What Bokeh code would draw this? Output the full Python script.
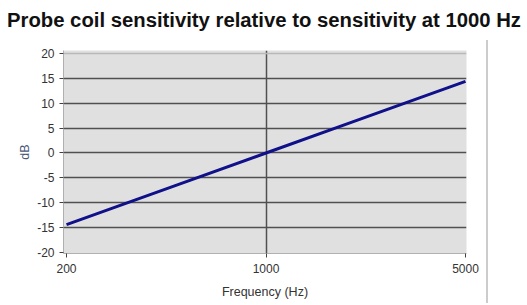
from bokeh.plotting import figure
from bokeh.models import FixedTicker, Range1d, Span, Div
from bokeh.layouts import column, row
from bokeh.embed import file_html
from bokeh.resources import INLINE

freq_hz = [200, 500, 1000, 2000, 5000]
sens_db = [-14.4, -6.2, 0.0, 6.2, 14.4]
x_ticks = [200, 1000, 5000]
y_ticks = [-20, -15, -10, -5, 0, 5, 10, 15, 20]
title_text = "Probe coil sensitivity relative to sensitivity at 1000 Hz"

p = figure(width=486, height=263, x_axis_type="log", output_backend="svg",
           toolbar_location=None,
           x_range=Range1d(195.2, 5040), y_range=Range1d(-20.2, 20.6),
           min_border_left=63, min_border_right=20, min_border_bottom=50, min_border_top=10,
           margin=0)

p.background_fill_color = "#e0e0e0"
p.border_fill_color = "white"
p.outline_line_color = None

p.line(freq_hz, sens_db, line_color="#10108a", line_width=3)

p.xgrid.ticker = FixedTicker(ticks=[1000])
p.xgrid.grid_line_color = "#505050"
p.xgrid.grid_line_width = 1.5
p.ygrid.ticker = FixedTicker(ticks=[-15, -10, -5, 0, 5, 10, 15])
p.ygrid.grid_line_color = "#505050"
p.ygrid.grid_line_width = 1.5
p.add_layout(Span(location=20, dimension="width", line_color="#b8b8b8", line_width=1.5))

for ax in (p.xaxis[0], p.yaxis[0]):
    ax.axis_line_color = "#b0b0b0"
    ax.major_tick_line_color = "#404040"
    ax.major_tick_out = 4
    ax.major_tick_in = 0
    ax.minor_tick_line_color = None
    ax.major_label_text_font = "Liberation Sans"
    ax.major_label_text_font_size = "12px"
    ax.major_label_text_color = "#333333"
    ax.axis_label_text_font = "Liberation Sans"
    ax.axis_label_text_font_size = "12.5px"
    ax.axis_label_text_font_style = "normal"

p.xaxis.ticker = FixedTicker(ticks=x_ticks)
p.xaxis.major_label_overrides = {t: str(t) for t in x_ticks}
p.xaxis.axis_label = "Frequency (Hz)"
p.xaxis.axis_label_text_color = "#333333"
p.xaxis.axis_label_standoff = 9
p.xaxis.major_label_standoff = 6
p.yaxis.ticker = FixedTicker(ticks=y_ticks)
p.yaxis.major_label_overrides = {t: str(t) for t in y_ticks}
p.yaxis.axis_label = "dB"
p.yaxis.axis_label_text_color = "#4a5878"
p.yaxis.axis_label_standoff = 2
p.yaxis.major_label_standoff = 5

title_div = Div(text=title_text, width=519, height=40, margin=0,
                styles={"font-family": "Liberation Sans", "font-size": "20.3px",
                        "font-weight": "bold", "color": "#111111",
                        "line-height": "40px", "padding-left": "7px",
                        "white-space": "nowrap"})
bar_div = Div(text="", width=2, height=263, margin=0,
              styles={"background-color": "#cccccc"})

layout = column(title_div, row(p, bar_div, spacing=0, margin=0), spacing=0, margin=0)

open("out.html", "w").write(file_html(layout, INLINE))
